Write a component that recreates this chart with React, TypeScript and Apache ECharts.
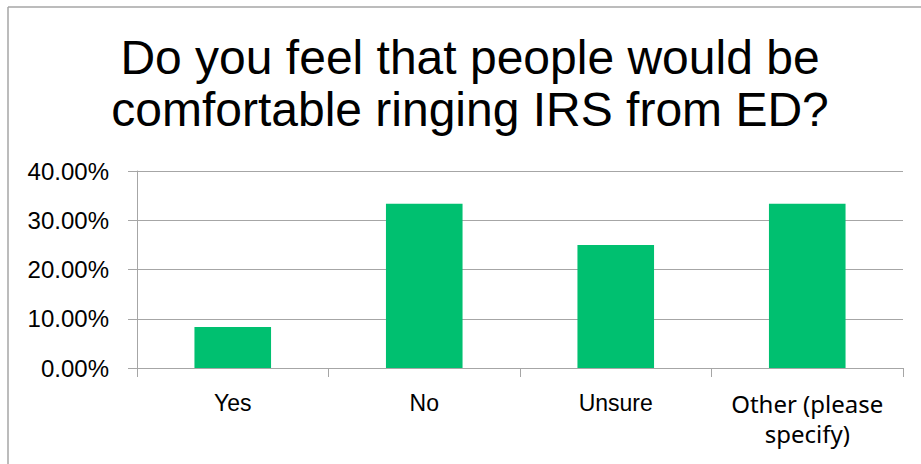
import React, { useEffect, useRef } from "react";
import * as echarts from "echarts";

const categories = ["Yes", "No", "Unsure", "Other (please specify)"];
const values = [0.0833, 0.3333, 0.25, 0.3333];
const titleLines = ["Do you feel that people would be", "comfortable ringing IRS from ED?"];
const yMin = 0;
const yMax = 0.4;
const yInterval = 0.1;

export default function App() {
  const ref = useRef<HTMLDivElement>(null);
  useEffect(() => {
    if (!ref.current) return;
    const chart = echarts.init(ref.current, undefined, { renderer: "svg" });
    const gray = "#a6a6a6";
    const catData = categories.map((c) =>
      c === "Other (please specify)"
        ? { value: c, textStyle: { fontFamily: "'Noto Sans', sans-serif", fontSize: 24, lineHeight: 30 } }
        : c
    );
    chart.setOption({
      animation: false,
      backgroundColor: "#ffffff",
      graphic: [
        {
          type: "line",
          shape: { x1: 8, y1: 7, x2: 921, y2: 7 },
          style: { stroke: gray, lineWidth: 1.5 },
          silent: true,
        },
        {
          type: "line",
          shape: { x1: 8, y1: 7, x2: 8, y2: 464 },
          style: { stroke: gray, lineWidth: 1.5 },
          silent: true,
        },
        {
          type: "text",
          x: 470,
          y: 31,
          style: {
            text: titleLines.join("\n"),
            textAlign: "center",
            textVerticalAlign: "top",
            fontSize: 48,
            lineHeight: 52,
            fontFamily: "'Liberation Sans', Arial, sans-serif",
            fill: "#000000",
          },
        },
      ],
      grid: { left: 137, right: 18, top: 171, bottom: 96, containLabel: false },
      xAxis: {
        type: "category",
        data: catData,
        boundaryGap: true,
        axisLine: { show: true, lineStyle: { color: gray, width: 1 } },
        axisTick: { show: true, length: 9, alignWithLabel: false, lineStyle: { color: gray } },
        axisLabel: {
          margin: 20,
          interval: 0,
          color: "#000000",
          fontSize: 23,
          lineHeight: 30,
          fontFamily: "'Liberation Sans', Arial, sans-serif",
          formatter: (v: string) =>
            v === "Other (please specify)" ? "Other (please\nspecify)" : v,
        },
      },
      yAxis: {
        type: "value",
        min: yMin,
        max: yMax,
        interval: yInterval,
        axisLine: { show: true, lineStyle: { color: gray, width: 1 } },
        axisTick: { show: true, length: 9, lineStyle: { color: gray } },
        splitLine: { show: true, lineStyle: { color: gray, width: 1 } },
        axisLabel: {
          margin: 28,
          color: "#000000",
          fontSize: 24,
          fontFamily: "'Liberation Sans', Arial, sans-serif",
          formatter: (v: number) => (v * 100).toFixed(2) + "%",
        },
      },
      series: [
        {
          type: "bar",
          data: values,
          barCategoryGap: "60%",
          itemStyle: { color: "#00c070" },
        },
      ],
    });
    return () => chart.dispose();
  }, []);
  return (
    <div
      ref={ref}
      style={{ position: "absolute", left: 0, top: 0, width: 921, height: 464 }}
    />
  );
}
